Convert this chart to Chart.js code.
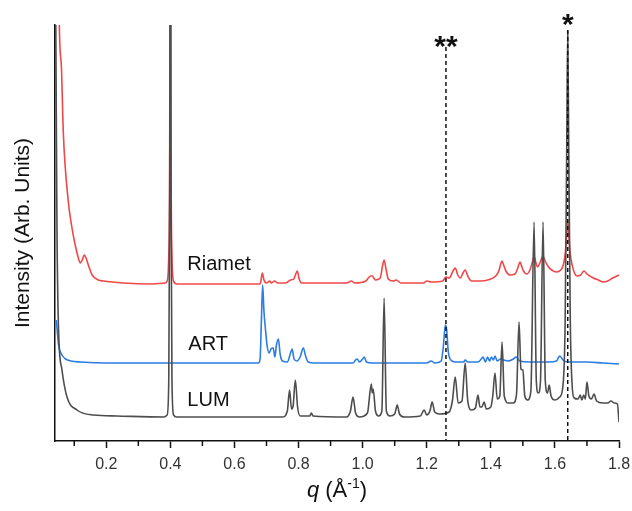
<!DOCTYPE html>
<html><head><meta charset="utf-8">
<script src="https://cdn.jsdelivr.net/npm/chart.js@4/dist/chart.umd.min.js"></script>
<style>html,body{margin:0;padding:0;background:#fff}</style>
</head><body>
<canvas id="c" width="632" height="511" style="display:block"></canvas>
<script>
// ---- data (q in 1/Å, intensity in arbitrary units) ----
const lumQ = [0.041,0.044,0.0462,0.0511,0.0618,0.0774,0.1086,0.16,0.233,0.38,0.39,0.395,0.398,0.400,0.402,0.405,0.41,0.42,
  0.75,0.765,0.772,0.778,0.783,0.790,0.797,0.805,0.835,0.84,0.845,0.95,0.962,0.970,0.978,0.99,1.015,1.027,1.030,1.033,1.040,1.05,1.06,1.067,1.074,1.085,
  1.10,1.108,1.115,1.13,1.18,1.192,1.20,1.21,1.217,1.225,1.24,1.27,1.28,1.289,1.298,1.31,1.320,1.328,1.34,1.352,1.360,1.366,1.372,1.379,1.386,
  1.40,1.406,1.413,1.420,1.428,1.435,1.442,1.455,1.47,1.48,1.488,1.494,1.500,1.506,1.515,1.525,1.535,1.542,1.548,1.555,1.563,1.570,1.577,1.582,1.588,
  1.60,1.615,1.625,1.632,1.637,1.640,1.643,1.648,1.653,1.66,1.672,1.679,1.684,1.690,1.695,1.700,1.706,1.714,1.722,1.73,1.75,1.765,1.775,1.785,1.795,1.80];
const lumI = [500,330,211,111,71,44,31,26,25,24,26,60,250,600,250,60,26,24,
  24,30,51,32,35,61,34,25,25,28,25,24,30,44,28,24,28,57,48,52,30,25,30,143,30,25,
  27,36,27,24,25,31,26,30,39,29,27,29,40,64,38,40,78,40,31,33,46,34,34,39,32,
  34,45,68,42,45,99,45,38,38,46,119,72,71,45,41,50,219,60,48,60,219,60,48,56,45,
  41,44,55,120,300,410,300,120,60,43,42,46,41,46,42,59,45,42,47,40,38,38,40,38,37,19];

const artQ = [0.044,0.047,0.0511,0.062,0.073,0.09,0.12,0.2,0.4,0.6,0.675,0.68,0.684,0.688,0.692,0.697,0.702,0.708,0.714,0.721,0.726,0.731,0.737,0.743,
  0.75,0.765,0.775,0.780,0.786,0.795,0.805,0.815,0.822,0.83,0.85,0.97,0.978,0.983,0.99,1.0,1.005,1.012,1.03,1.2,1.214,1.225,1.245,1.252,1.258,1.262,
  1.267,1.275,1.29,1.315,1.320,1.328,1.36,1.37,1.376,1.383,1.39,1.396,1.402,1.408,1.413,1.42,1.43,1.44,1.455,1.47,1.479,1.49,1.52,1.58,1.605,1.612,
  1.616,1.625,1.64,1.7,1.75,1.8];
const artI = [121,110,96,86,82,80,79,78,78,78,78,82,120,156,130,111,95,88,92,93,84,96,102,86,
  80,79,88,92,82,80,84,93,85,79,78,78,81,82,79,82,84,79,78,78,80,78,80,95,116,112,
  90,81,79,79,81,79,79,82,84,79,84,80,84,81,85,80,82,81,80,82,84,80,79,79,80,84,
  85,81,79,79,78,77];

const riaQ = [0.052,0.0535,0.060,0.066,0.081,0.092,0.103,0.112,0.119,0.125,0.131,0.137,0.144,0.156,0.175,0.191,0.253,0.337,0.385,0.39,0.395,0.398,0.400,0.402,0.405,0.41,0.42,
  0.68,0.684,0.687,0.692,0.70,0.71,0.715,0.725,0.735,0.76,0.775,0.785,0.790,0.796,0.802,0.81,0.95,0.965,0.975,1.01,1.025,1.030,1.04,1.055,1.062,1.067,1.073,1.08,
  1.095,1.105,1.12,1.19,1.2,1.215,1.25,1.26,1.27,1.282,1.289,1.297,1.305,1.313,1.320,1.328,1.34,1.37,1.40,1.415,1.425,1.430,1.435,1.440,1.447,1.46,1.475,1.483,
  1.488,1.491,1.495,1.502,1.512,1.522,1.528,1.533,1.536,1.540,1.546,1.553,1.559,1.563,1.568,1.578,1.59,1.605,1.618,1.627,1.633,1.637,1.640,1.643,1.647,1.653,
  1.669,1.68,1.691,1.70,1.72,1.735,1.75,1.765,1.78,1.80];
const riaI = [470,416,374,308,241,215,196,184,178,181,186,183,176,166,161,160,158,157,158,160,185,300,700,300,185,160,157,
  157,163,168,161,158,160,158,160,158,158,161,162,166,170,162,158,158,160,158,160,165,165,161,163,175,181,172,162,
  160,161,158,158,160,159,160,164,163,170,173,166,163,168,171,165,160,160,162,165,170,176,180,176,170,166,167,172,
  177,179,176,170,167,171,177,183,184,179,174,178,183,185,181,175,171,169,171,177,190,208,221,208,190,177,
  165,166,170,167,163,161,159,160,163,166];

const xTickValues = [0.2,0.4,0.6,0.8,1.0,1.2,1.4,1.6,1.8];
const xMinorTicks = [0.1,0.3,0.5,0.7,0.9,1.1,1.3,1.5,1.7];
const seriesNames = ['LUM','ART','Riamet'];

const toPts = (qs, is) => qs.map((q, i) => ({x: q, y: is[i]}));

const FONT = "'Liberation Sans', Arial, sans-serif";

const annotPlugin = {
  id: 'annot',
  afterDatasetsDraw(chart, args, opts) {
    const {ctx, scales: {x, y}} = chart;
    ctx.save();
    ctx.fillStyle = '#111';
    ctx.font = '20px ' + FONT;
    ctx.textAlign = 'left';
    ctx.textBaseline = 'alphabetic';
    opts.labels.forEach(l => ctx.fillText(l.text, x.getPixelForValue(l.q), y.getPixelForValue(l.y)));
    opts.markers.forEach(m => {
      const px = x.getPixelForValue(m.q);
      ctx.save();
      ctx.setLineDash([4, 3]);
      ctx.strokeStyle = '#111';
      ctx.lineWidth = 1.5;
      ctx.beginPath();
      ctx.moveTo(px, y.getPixelForValue(m.top));
      ctx.lineTo(px, y.getPixelForValue(0));
      ctx.stroke();
      ctx.restore();
      ctx.font = 'bold 30px ' + FONT;
      ctx.textAlign = 'center';
      ctx.textBaseline = 'alphabetic';
      const mt = ctx.measureText(m.text);
      const inkMid = (mt.actualBoundingBoxAscent - mt.actualBoundingBoxDescent) / 2;
      ctx.fillText(m.text, px, y.getPixelForValue(m.starY) + inkMid);
    });
    ctx.strokeStyle = '#111';
    ctx.lineWidth = 1.5;
    const by = chart.chartArea.bottom;
    opts.minor.forEach(v => {
      const px = x.getPixelForValue(v);
      ctx.beginPath(); ctx.moveTo(px, by); ctx.lineTo(px, by + 5); ctx.stroke();
    });
    ctx.fillStyle = '#111';
    ctx.save();
    ctx.translate(29, (chart.chartArea.top + chart.chartArea.bottom) / 2);
    ctx.rotate(-Math.PI / 2);
    ctx.font = '21px ' + FONT;
    ctx.textAlign = 'center';
    ctx.fillText('Intensity (Arb. Units)', 0, 0);
    ctx.restore();
    const parts = [
      {t: 'q', f: 'italic 22px ' + FONT, dy: 0},
      {t: ' (Å', f: '22px ' + FONT, dy: 0},
      {t: '-1', f: '14px ' + FONT, dy: -9},
      {t: ')', f: '22px ' + FONT, dy: 0}
    ];
    let total = 0;
    parts.forEach(p => { ctx.font = p.f; p.w = ctx.measureText(p.t).width; total += p.w; });
    let cx = (chart.chartArea.left + chart.chartArea.right) / 2 - total / 2;
    ctx.textAlign = 'left';
    parts.forEach(p => { ctx.font = p.f; ctx.fillText(p.t, cx, 497 + p.dy); cx += p.w; });
    ctx.restore();
  }
};

new Chart(document.getElementById('c'), {
  type: 'line',
  data: {
    datasets: [
      {label: seriesNames[0], data: toPts(lumQ, lumI), borderColor: '#4d4d4d', borderWidth: 1.6},
      {label: seriesNames[1], data: toPts(artQ, artI), borderColor: '#2b7de3', borderWidth: 1.6},
      {label: seriesNames[2], data: toPts(riaQ, riaI), borderColor: '#f04848', borderWidth: 1.6}
    ]
  },
  options: {
    responsive: false,
    animation: false,
    events: [],
    layout: {padding: {top: 25, right: 13, left: 0, bottom: 0}},
    elements: {point: {radius: 0}, line: {cubicInterpolationMode: 'monotone', fill: false}},
    plugins: {
      legend: {display: false},
      tooltip: {enabled: false},
      annot: {
        labels: [
          {text: 'Riamet', q: 0.453, y: 171},
          {text: 'ART', q: 0.456, y: 91},
          {text: 'LUM', q: 0.453, y: 35}
        ],
        markers: [
          {q: 1.26, top: 394, text: '**', starY: 399},
          {q: 1.64, top: 411, text: '*', starY: 421}
        ],
        minor: xMinorTicks
      }
    },
    scales: {
      x: {
        type: 'linear', min: 0.04, max: 1.8,
        afterBuildTicks: s => { s.ticks = xTickValues.map(v => ({value: v})); },
        afterFit: s => { s.height = 70; s.paddingLeft = 0; s.paddingRight = 0; },
        ticks: {callback: v => Number(v).toFixed(1), font: {family: FONT, size: 16}, color: '#333', padding: 7, maxRotation: 0, autoSkip: false},
        grid: {display: true, drawOnChartArea: false, drawTicks: true, tickLength: 7, tickWidth: 1.5, tickColor: '#111'},
        border: {display: true, color: '#111', width: 1.5}
      },
      y: {
        type: 'linear', min: 0, max: 416,
        afterFit: s => { s.width = 55; },
        ticks: {display: false},
        grid: {display: false, drawTicks: false},
        border: {display: true, color: '#111', width: 1.5}
      }
    }
  },
  plugins: [annotPlugin]
});
</script>
</body></html>
